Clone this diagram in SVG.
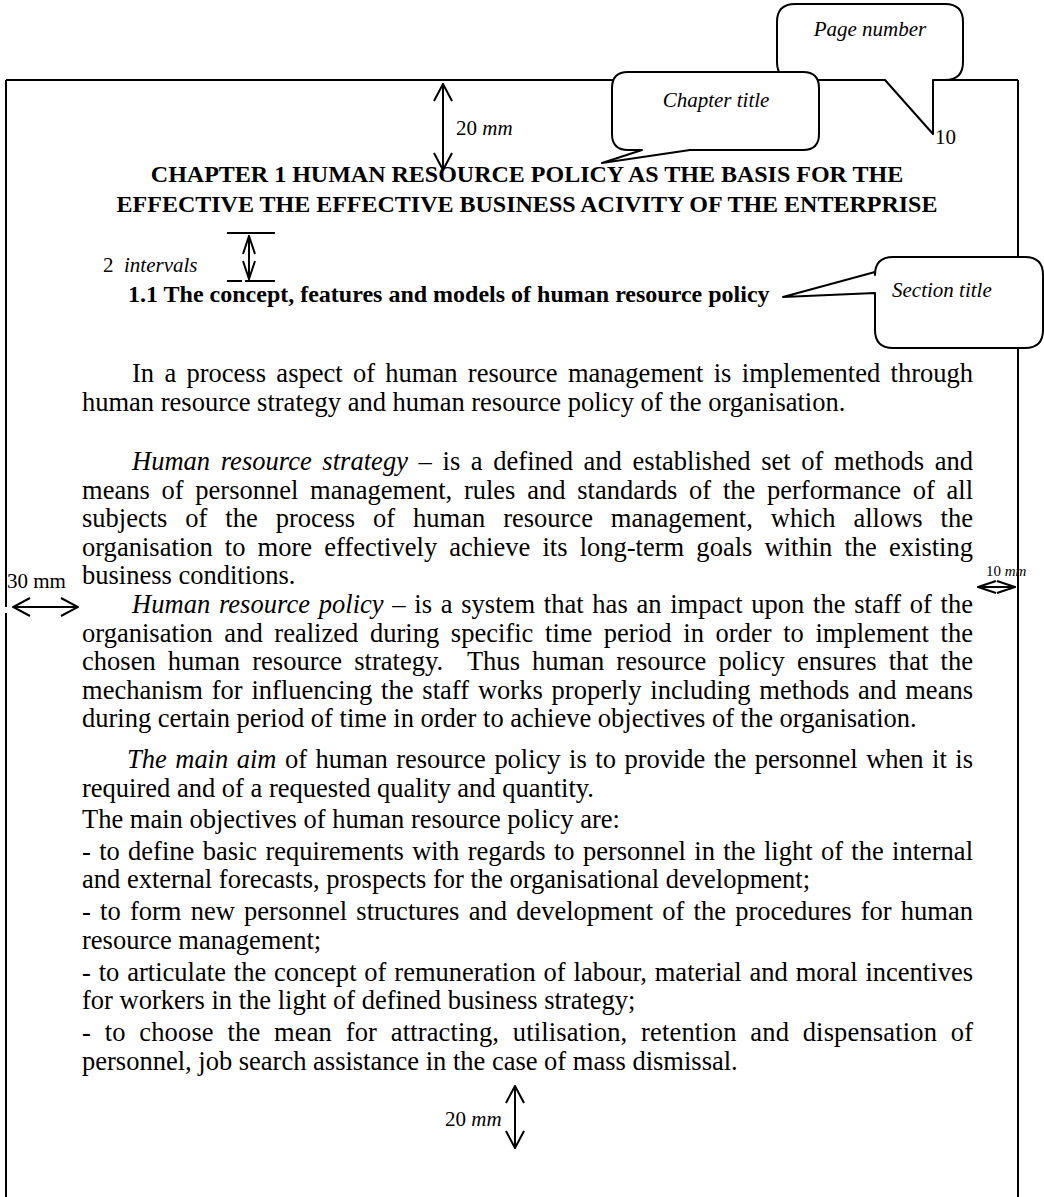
<svg xmlns="http://www.w3.org/2000/svg" width="1044" height="1197" viewBox="0 0 1044 1197">
<defs>
<style>
.b{font-family:"Liberation Serif","Times New Roman",serif;font-size:26.5px;fill:#000}
.h{font-family:"Liberation Serif","Times New Roman",serif;font-size:24px;font-weight:bold;fill:#000}
.lbl{font-family:"Liberation Serif","Times New Roman",serif;font-size:21px;fill:#000}
.i{font-style:italic}
.ln{stroke:#000;stroke-width:2;fill:none}
.co{fill:#fff;stroke:#000;stroke-width:2;stroke-linejoin:round}
</style>
<marker id="ah" viewBox="0 0 20 20" refX="19" refY="10" markerWidth="20" markerHeight="20" markerUnits="userSpaceOnUse" orient="auto-start-reverse"><path d="M2,1 L19,10 L2,19" fill="none" stroke="#000" stroke-width="2"/></marker>
<marker id="ahs" viewBox="0 0 20 14" refX="19" refY="7" markerWidth="20" markerHeight="14" markerUnits="userSpaceOnUse" orient="auto-start-reverse"><path d="M1,1 L19,7 L1,13" fill="none" stroke="#000" stroke-width="2"/></marker>
</defs>
<rect width="1044" height="1197" fill="#fff"/>
<g id="page-border">
<path class="ln" d="M6,80 H1018 M1018,80 V1197 M6,80 V607 M6,613 V1197"/>
</g>
<g id="connectors">
<path class="ln" d="M443,84 V170" marker-start="url(#ah)" marker-end="url(#ah)"/>
<path class="ln" d="M227,233 H275 M227,281 H242 M245,281 H275"/>
<path class="ln" d="M249,236 V279" marker-start="url(#ahs)" marker-end="url(#ahs)"/>
<path class="ln" d="M13,607 H78" marker-start="url(#ah)" marker-end="url(#ah)"/>
<path class="ln" d="M978,587 H1015" marker-start="url(#ahs)" marker-end="url(#ahs)"/>
<path class="ln" d="M515,1086 V1148" marker-start="url(#ah)" marker-end="url(#ah)"/>
</g>
<g id="page-number-callout">
<path class="co" d="M795,4 H945 Q963,4 963,22 V62 Q963,80 945,80 H933 V134 L885,80 H795 Q777,80 777,62 V22 Q777,4 795,4 Z"/>
<text class="lbl i" x="870" y="36" text-anchor="middle">Page number</text>
</g>
<text class="lbl" x="935" y="144">10</text>
<g id="chapter-callout">
<path class="co" d="M628,72 H803 Q819,72 819,88 V134 Q819,150 803,150 H690 L602,163 L642,150 H628 Q612,150 612,134 V88 Q612,72 628,72 Z"/>
<text class="lbl i" x="716" y="107" text-anchor="middle">Chapter title</text>
</g>
<g id="section-callout">
<path class="co" d="M893,257 H1025 Q1043,257 1043,275 V330 Q1043,348 1025,348 H893 Q875,348 875,330 V293 L783,297 L875,272 V275 Q875,257 893,257 Z"/>
<text class="lbl i" x="892" y="297">Section title</text>
</g>
<text class="lbl" x="456" y="135">20 <tspan class="i">mm</tspan></text>
<text class="lbl" x="103" y="272">2&#160; <tspan class="i">intervals</tspan></text>
<text class="lbl" x="7" y="588">30 mm</text>
<text class="lbl" x="986" y="576" style="font-size:15px">10 <tspan class="i">mm</tspan></text>
<text class="lbl" x="445" y="1126">20 <tspan class="i">mm</tspan></text>
<g id="headings">
<text class="h" x="527" y="182" text-anchor="middle">CHAPTER 1 HUMAN RESOURCE POLICY AS THE BASIS FOR THE</text>
<text class="h" x="527" y="212" text-anchor="middle">EFFECTIVE THE EFFECTIVE BUSINESS ACIVITY OF THE ENTERPRISE</text>
<text class="h" x="128" y="302">1.1 The concept, features and models of human resource policy</text>
</g>
<g id="body">
<text class="b" x="132" y="382" word-spacing="3.7" textLength="841" lengthAdjust="spacing">In a process aspect of human resource management is implemented through</text>
<text class="b" x="82" y="410.5">human resource strategy and human resource policy of the organisation.</text>
<text class="b" x="132" y="470" word-spacing="4" textLength="841" lengthAdjust="spacing"><tspan class="i">Human resource strategy</tspan> – is a defined and established set of methods and</text>
<text class="b" x="82" y="498.5" word-spacing="5.1" textLength="891" lengthAdjust="spacing">means of personnel management, rules and standards of the performance of all</text>
<text class="b" x="82" y="527" word-spacing="11.3" textLength="891" lengthAdjust="spacing">subjects of the process of human resource management, which allows the</text>
<text class="b" x="82" y="555.5" word-spacing="5.5" textLength="891" lengthAdjust="spacing">organisation to more effectively achieve its long-term goals within the existing</text>
<text class="b" x="82" y="584">business conditions.</text>
<text class="b" x="132" y="613" word-spacing="2" textLength="841" lengthAdjust="spacing"><tspan class="i">Human resource policy</tspan> – is a system that has an impact upon the staff of the</text>
<text class="b" x="82" y="641.5" word-spacing="5" textLength="891" lengthAdjust="spacing">organisation and realized during specific time period in order to implement the</text>
<text class="b" x="82" y="670" word-spacing="5.4" textLength="891" lengthAdjust="spacing">chosen human resource strategy.&#160; Thus human resource policy ensures that the</text>
<text class="b" x="82" y="698.5" word-spacing="2.2" textLength="891" lengthAdjust="spacing">mechanism for influencing the staff works properly including methods and means</text>
<text class="b" x="82" y="727">during certain period of time in order to achieve objectives of the organisation.</text>
<text class="b" x="127" y="768" word-spacing="1.9" textLength="846" lengthAdjust="spacing"><tspan class="i">The main aim</tspan> of human resource policy is to provide the personnel when it is</text>
<text class="b" x="82" y="796.5">required and of a requested quality and quantity.</text>
<text class="b" x="82" y="827.5">The main objectives of human resource policy are:</text>
<text class="b" x="82" y="859.5" word-spacing="1.7" textLength="891" lengthAdjust="spacing">- to define basic requirements with regards to personnel in the light of the internal</text>
<text class="b" x="82" y="888">and external forecasts, prospects for the organisational development;</text>
<text class="b" x="82" y="920" word-spacing="2.6" textLength="891" lengthAdjust="spacing">- to form new personnel structures and development of the procedures for human</text>
<text class="b" x="82" y="948.5">resource management;</text>
<text class="b" x="82" y="980.5" word-spacing="1.2" textLength="891" lengthAdjust="spacing">- to articulate the concept of remuneration of labour, material and moral incentives</text>
<text class="b" x="82" y="1009">for workers in the light of defined business strategy;</text>
<text class="b" x="82" y="1041" word-spacing="6.9" textLength="891" lengthAdjust="spacing">- to choose the mean for attracting, utilisation, retention and dispensation of</text>
<text class="b" x="82" y="1069.5">personnel, job search assistance in the case of mass dismissal.</text>
</g>
</svg>
